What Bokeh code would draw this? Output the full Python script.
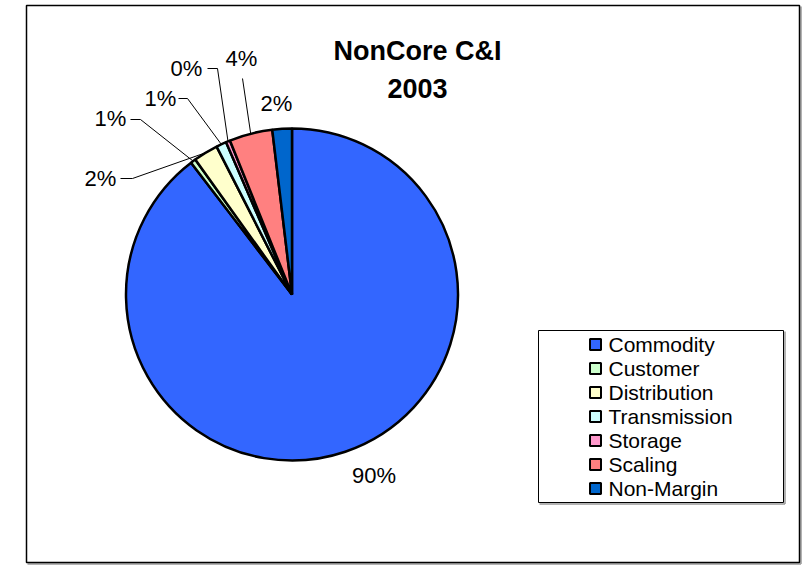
import math
from bokeh.plotting import figure
from bokeh.models import Range1d
from bokeh.core.properties import value
from bokeh.embed import file_html
from bokeh.resources import INLINE

# ---------------- data ----------------
categories = ["Commodity", "Customer", "Distribution", "Transmission",
              "Storage", "Scaling", "Non-Margin"]
shares = [89.6, 0.5, 2.4, 1.0, 0.4, 4.2, 1.9]
colors = ["#3366FF", "#CCFFCC", "#FFFFCC", "#CCFFFF",
          "#FF99CC", "#FF8080", "#0066CC"]
title_lines = ["NonCore C&I", "2003"]

# ---------------- layout (screen px) ----------------
W, H = 802, 565


def X(sx):
    return sx


def Y(sy):
    return H - sy


FONT = value("Liberation Sans")

p = figure(width=W, height=H, x_range=Range1d(0, W), y_range=Range1d(0, H),
           output_backend="svg", toolbar_location=None, min_border=0,
           x_axis_location=None, y_axis_location=None)
p.xgrid.visible = False
p.ygrid.visible = False
p.outline_line_color = None
p.background_fill_color = "white"
p.border_fill_color = "white"

# chart-area frame (with light shadow)
p.line(x=[X(800.5), X(800.5)], y=[Y(6), Y(563.5)], line_color="#999999", line_width=1.5)
p.line(x=[X(27), X(800.5)], y=[Y(563.5), Y(563.5)], line_color="#999999", line_width=1.5)
p.quad(left=X(26), right=X(799), top=Y(5), bottom=Y(562),
       fill_color=None, line_color="black", line_width=1.5)

# ---------------- pie ----------------
cx, cy, R = X(291.5), Y(294), 166
total = sum(shares)
starts, ends, mids = [], [], []
acc = 0.0
for v in shares:
    a0 = acc
    a1 = acc + v / total * 360.0
    starts.append(math.radians(90 - a1))
    ends.append(math.radians(90 - a0))
    mids.append(math.radians(90 - (a0 + a1) / 2))
    acc = a1

p.wedge(x=[cx] * len(shares), y=[cy] * len(shares), radius=R,
        start_angle=starts, end_angle=ends, direction="anticlock",
        fill_color=colors, line_color="black", line_width=2.5)

# ---------------- percent labels ----------------
pct_labels = [f"{int(v / total * 100 + 0.5)}%" for v in shares]

label_pos = {  # (center x, cap-centre y) in screen px
    "Commodity": (373.5, 475),
    "Customer": (110, 118),
    "Distribution": (100, 178),
    "Transmission": (160, 98),
    "Storage": (186, 68),
    "Scaling": (241, 58),
    "Non-Margin": (276, 103),
}
leader_start = {
    "Customer": [(130, 119), (140, 119)],
    "Distribution": [(120, 178), (132, 178)],
    "Transmission": [(178, 98), (187, 98)],
    "Storage": [(207, 68), (217, 68)],
    "Scaling": [(242, 78)],
}

lxs, lys = [], []
for i, c in enumerate(categories):
    if c in leader_start:
        pts = leader_start[c]
        xs = [X(a) for a, b in pts] + [cx + R * math.cos(mids[i])]
        ys = [Y(b) for a, b in pts] + [cy + R * math.sin(mids[i])]
        lxs.append(xs)
        lys.append(ys)
p.multi_line(xs=lxs, ys=lys, line_color="black", line_width=1)

p.text(x=[X(label_pos[c][0]) for c in categories],
       y=[Y(label_pos[c][1]) for c in categories],
       text=pct_labels, text_font=FONT, text_font_size="22px",
       text_align="center", text_baseline="middle", text_color="black")

# ---------------- title ----------------
p.text(x=[X(417), X(417)], y=[Y(50), Y(88)], text=title_lines,
       text_font=FONT, text_font_size="27px", text_font_style="bold",
       text_align="center", text_baseline="middle", text_color="black")

# ---------------- legend ----------------
lg_l, lg_r, lg_t, lg_b = 538, 783, 330, 502
p.line(x=[X(lg_r + 1.5), X(lg_r + 1.5)], y=[Y(lg_t + 1), Y(lg_b + 1.5)], line_color="#999999", line_width=1.5)
p.line(x=[X(lg_l + 1), X(lg_r + 1.5)], y=[Y(lg_b + 1.5), Y(lg_b + 1.5)], line_color="#999999", line_width=1.5)
p.quad(left=X(lg_l), right=X(lg_r), top=Y(lg_t), bottom=Y(lg_b),
       fill_color="white", line_color="black", line_width=1)

row_y = [344 + 24 * i for i in range(len(categories))]
p.rect(x=[X(595)] * len(categories), y=[Y(r) for r in row_y], width=11, height=11,
       fill_color=colors, line_color="black", line_width=2)
p.text(x=[X(608)] * len(categories), y=[Y(r) for r in row_y], text=categories,
       text_font=FONT, text_font_size="21px", text_align="left",
       text_baseline="middle", text_color="black")

open("out.html", "w").write(file_html(p, INLINE))
